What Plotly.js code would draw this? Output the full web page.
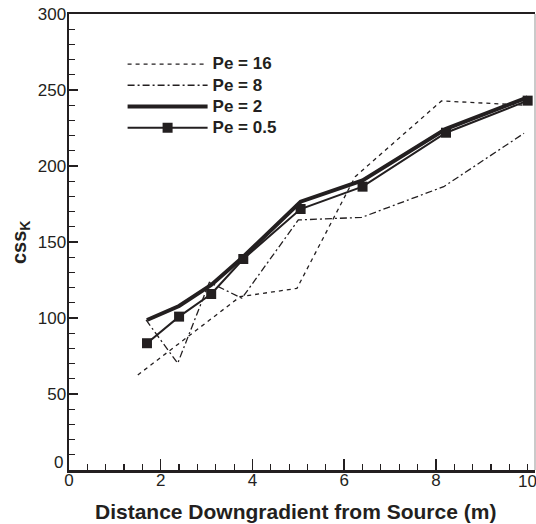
<!DOCTYPE html>
<html>
<head>
<meta charset="utf-8">
<script src="https://cdn.plot.ly/plotly-3.0.1.min.js"></script>
<style>html,body{margin:0;padding:0;background:#fff;}#chart{width:536px;height:524px;}</style>
</head>
<body>
<div id="chart"></div>
<script>
// Data
const seriesNames = ["Pe = 16", "Pe = 8", "Pe = 2", "Pe = 0.5"];
const xPe16 = [1.5, 3.73, 4.97, 6.24, 8.12, 9.97];
const yPe16 = [62.5, 114, 119.5, 193, 242.8, 240];
const xPe8 = [1.68, 2.37, 3.06, 3.77, 5.0, 6.38, 8.17, 9.92];
const yPe8 = [98.7, 70.2, 123.5, 113, 164.5, 166.2, 186.4, 221.5];
const xPe2 = [1.7, 2.4, 3.1, 3.8, 5.05, 6.4, 8.22, 10.0];
const yPe2 = [98.7, 107.9, 121.7, 140.3, 176.5, 190.5, 224.5, 245.2];
const xPe05 = [1.7, 2.4, 3.1, 3.8, 5.05, 6.4, 8.22, 10.0];
const yPe05 = [83.4, 100.9, 115.8, 138.8, 171.7, 186.4, 221.9, 243.0];
const xTickVals = [0, 2, 4, 6, 8];
const xTickText = ["0", "2", "4", "6", "8"];
const xLastTick = 10;
const xLastText = "10";
const yTickVals = [50, 100, 150, 200, 250, 300];
const yTickText = ["50", "100", "150", "200", "250", "300"];
const yZeroText = "0";
const xTitle = "Distance Downgradient from Source (m)";
const yTitle = "css<sub>K</sub>";

const ink = "#231f20";
const FONT = "Liberation Sans, Arial, sans-serif";
const big = s => '<span style="font-size:17px">' + s + '</span>';

const traces = [
  {x: xPe16, y: yPe16, name: big(seriesNames[0]), mode: "lines",
   line: {color: ink, width: 1.3, dash: "4px,4px"}},
  {x: xPe8, y: yPe8, name: big(seriesNames[1]), mode: "lines",
   line: {color: ink, width: 1.3, dash: "7px,3px,2px,3px"}},
  {x: xPe2, y: yPe2, name: big(seriesNames[2]), mode: "lines",
   line: {color: ink, width: 4}},
  {x: xPe05, y: yPe05, name: big(seriesNames[3]), mode: "lines+markers",
   line: {color: ink, width: 2}, marker: {symbol: "square", size: 10, color: ink}}
];

const layout = {
  width: 536, height: 524,
  margin: {l: 69, r: 1, t: 14, b: 54, pad: 0},
  paper_bgcolor: "#fff", plot_bgcolor: "#fff",
  font: {family: FONT, color: ink, size: 17},
  showlegend: true,
  legend: {x: 0.115, y: 0.9245, xanchor: "left", yanchor: "top",
           bgcolor: "rgba(0,0,0,0)", borderwidth: 0, itemwidth: 80,
           font: {family: FONT, size: 14, color: ink, weight: "bold"},
           tracegroupgap: 0},
  xaxis: {range: [0, 10.16], showgrid: false, zeroline: false,
          showline: true, linecolor: ink, linewidth: 2.5, mirror: true,
          ticks: "inside", ticklen: 11, tickwidth: 1.5, tickcolor: ink,
          tickvals: xTickVals, ticktext: xTickText, ticklabelstandoff: -7,
          minor: {dtick: 0.4, ticks: "inside", ticklen: 6, tickwidth: 1.2, tickcolor: ink},
          tickfont: {family: FONT, size: 17, color: ink}},
  yaxis: {range: [0, 300], showgrid: false, zeroline: false,
          showline: true, linecolor: ink, linewidth: 2.5,
          ticks: "inside", ticklen: 9, tickwidth: 1.5, tickcolor: ink,
          tickvals: yTickVals, ticktext: yTickText, ticklabelstandoff: -3,
          minor: {dtick: 10, ticks: "inside", ticklen: 6, tickwidth: 1.2, tickcolor: ink},
          tickfont: {family: FONT, size: 17, color: ink}},
  annotations: [
    {text: xTitle, xref: "paper", yref: "paper", x: 0.485, y: -0.062,
     xanchor: "center", yanchor: "top", showarrow: false,
     font: {family: FONT, size: 21, color: ink, weight: "bold"}},
    {text: yTitle, xref: "paper", yref: "paper", x: -0.105, y: 0.5,
     xanchor: "center", yanchor: "middle", textangle: -90, showarrow: false,
     font: {family: FONT, size: 20, color: ink, weight: "bold"}},
    {text: yZeroText, xref: "paper", yref: "y", x: -0.008, y: 5,
     xanchor: "right", yanchor: "middle", showarrow: false,
     font: {family: FONT, size: 17, color: ink}},
    {text: xLastText, xref: "x", yref: "paper", x: xLastTick, y: -0.001,
     xanchor: "center", yanchor: "top", showarrow: false,
     font: {family: FONT, size: 17, color: ink}}
  ],
  shapes: [
    {type: "line", xref: "paper", yref: "paper", x0: 1, x1: 1, y0: 0, y1: 1,
     line: {color: "#b8b8b8", width: 1.5}}
  ]
};

Plotly.newPlot("chart", traces, layout, {displayModeBar: false, staticPlot: true});
</script>
</body>
</html>
